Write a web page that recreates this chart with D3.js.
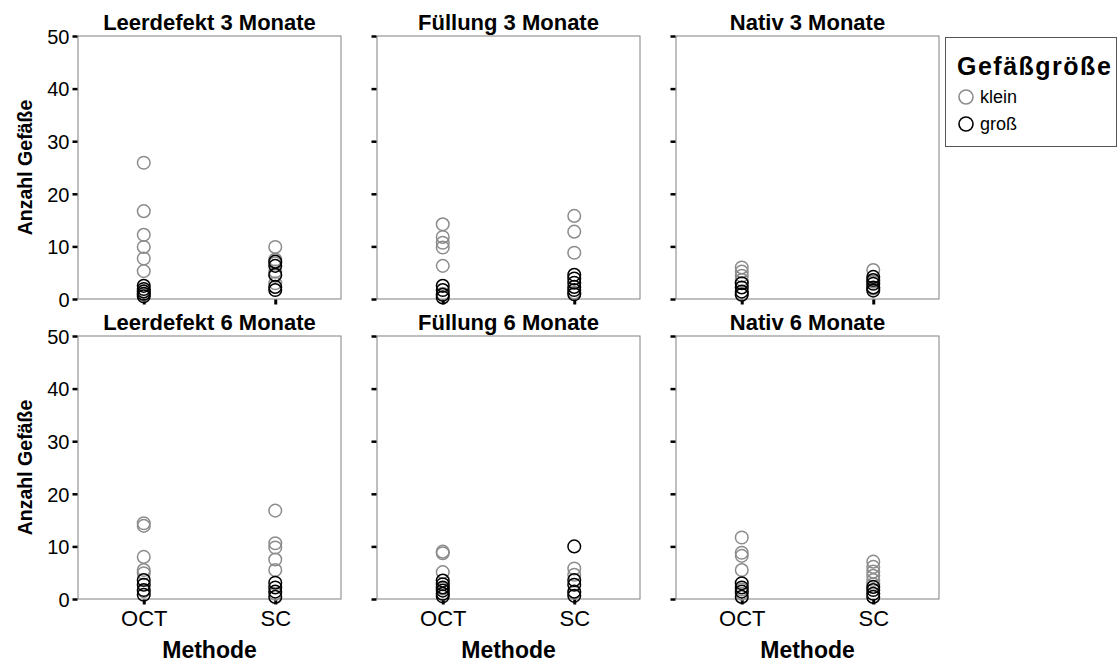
<!DOCTYPE html>
<html><head><meta charset="utf-8">
<script src="https://cdn.jsdelivr.net/npm/d3@7"></script>
<style>body{margin:0;background:#fff}svg{font-family:"Liberation Sans",Arial,sans-serif}</style>
</head><body><svg id="c" width="1120" height="662"></svg>
<script>
const panelTitles = ["Leerdefekt 3 Monate","Füllung 3 Monate","Nativ 3 Monate","Leerdefekt 6 Monate","Füllung 6 Monate","Nativ 6 Monate"];
const methods = ["OCT","SC"];
const sizes = ["klein","groß"];
const yTicks = [0,10,20,30,40,50];
// values per panel, in order of panelTitles
const kleinOCT = [
  [25.9,16.7,12.2,9.9,7.7,5.3,1.5,0.8],
  [14.2,11.8,10.7,9.8,6.3,1.0],
  [6.0,5.2,4.4,3.6,1.0],
  [14.4,13.9,8.0,5.5,4.9,1.5],
  [9.0,8.7,5.1,2.0,1.0],
  [11.7,8.8,8.2,5.5,1.8,1.0]
];
const kleinSC = [
  [9.9,7.5,6.8,5.2,4.4,3.0],
  [15.8,12.8,8.8,1.2],
  [5.5,3.3,2.0],
  [16.8,10.6,9.8,7.5,5.5,1.0],
  [5.8,4.6,1.2],
  [7.1,6.1,5.2,4.4,3.6,2.8]
];
const grossOCT = [
  [2.5,1.9,1.4,1.0,0.5],
  [2.5,1.7,0.8,0.3],
  [3.0,2.2,1.4,0.8],
  [3.6,2.7,1.7,0.8],
  [3.5,2.8,2.2,1.6,1.0,0.5],
  [3.0,2.2,1.4,0.4]
];
const grossSC = [
  [7.1,6.3,4.6,2.3,1.7],
  [4.6,3.9,3.1,2.3,1.7,0.9],
  [4.2,3.6,2.9,2.2,1.6],
  [3.1,2.2,1.4,0.4],
  [10.0,3.6,2.7,1.4,0.6],
  [2.3,1.7,1.0,0.4]
];

const svg = d3.select("#c");
const colX = [78,377,676], rowY = [36,336], pw = 263, ph = 263;
const colors = {klein:"#8c8c8c", "groß":"#000"};

panelTitles.forEach((t,i)=>{
  const c = i%3, r = Math.floor(i/3);
  const x = d3.scalePoint().domain(methods).range([colX[c], colX[c]+pw]).padding(0.5);
  const y = d3.scaleLinear().domain([0,50]).range([rowY[r]+ph, rowY[r]]);
  const g = svg.append("g");
  g.append("rect").attr("x",colX[c]).attr("y",rowY[r]).attr("width",pw).attr("height",ph)
    .attr("fill","none").attr("stroke","#808080").attr("stroke-width",1);
  // y axis
  const ya = g.append("g").attr("transform",`translate(${colX[c]-0.5},0)`)
    .call(d3.axisLeft(y).tickValues(yTicks).tickSize(5).tickPadding(3).tickFormat(c===0?d3.format("d"):()=> ""));
  ya.select(".domain").remove();
  ya.selectAll(".tick line").attr("stroke","#000").attr("stroke-width",2.5);
  ya.selectAll(".tick text").attr("font-size",20).attr("fill","#000").attr("dy","0.36em");
  // x axis
  const xa = g.append("g").attr("transform",`translate(0,${rowY[r]+ph+0.5})`)
    .call(d3.axisBottom(x).tickSize(5).tickPadding(6).tickFormat(r===1?d=>d:()=>""));
  xa.select(".domain").remove();
  xa.selectAll(".tick line").attr("stroke","#000").attr("stroke-width",3);
  xa.selectAll(".tick text").attr("font-size",22).attr("fill","#000");
  // title
  g.append("text").attr("x",colX[c]+pw/2).attr("y",rowY[r]-6).attr("text-anchor","middle")
    .attr("font-size",22).attr("font-weight","bold").text(t);
  // points
  const pts = [];
  kleinOCT[i].forEach(v=>pts.push({m:"OCT",s:"klein",v}));
  kleinSC[i].forEach(v=>pts.push({m:"SC",s:"klein",v}));
  grossOCT[i].forEach(v=>pts.push({m:"OCT",s:"groß",v}));
  grossSC[i].forEach(v=>pts.push({m:"SC",s:"groß",v}));
  g.selectAll("circle.p").data(pts).join("circle").attr("class","p")
    .attr("cx",d=>x(d.m)).attr("cy",d=>y(d.v)).attr("r",6.3)
    .attr("fill","none").attr("stroke",d=>colors[d.s]).attr("stroke-width",1.5);
  if(c===0){
    g.append("text").attr("transform",`translate(32,${rowY[r]+ph/2}) rotate(-90)`)
      .attr("text-anchor","middle").attr("font-size",19.5).attr("font-weight","bold").text("Anzahl Gefäße");
  }
  if(r===1){
    g.append("text").attr("x",colX[c]+pw/2).attr("y",658).attr("text-anchor","middle")
      .attr("font-size",23).attr("font-weight","bold").text("Methode");
  }
});

// legend
const lg = svg.append("g");
lg.append("rect").attr("x",945.5).attr("y",37.5).attr("width",171).attr("height",109)
  .attr("fill","#fff").attr("stroke","#555").attr("stroke-width",1);
lg.append("text").attr("x",957).attr("y",75).attr("font-size",25).attr("font-weight","bold")
  .attr("letter-spacing",1.5).text("Gefäßgröße");
sizes.forEach((s,k)=>{
  const cy = 97 + k*27;
  lg.append("circle").attr("cx",966).attr("cy",cy).attr("r",7).attr("fill","none")
    .attr("stroke",colors[s]).attr("stroke-width",1.6);
  lg.append("text").attr("x",980).attr("y",cy+6).attr("font-size",18).text(s);
});
</script></body></html>
